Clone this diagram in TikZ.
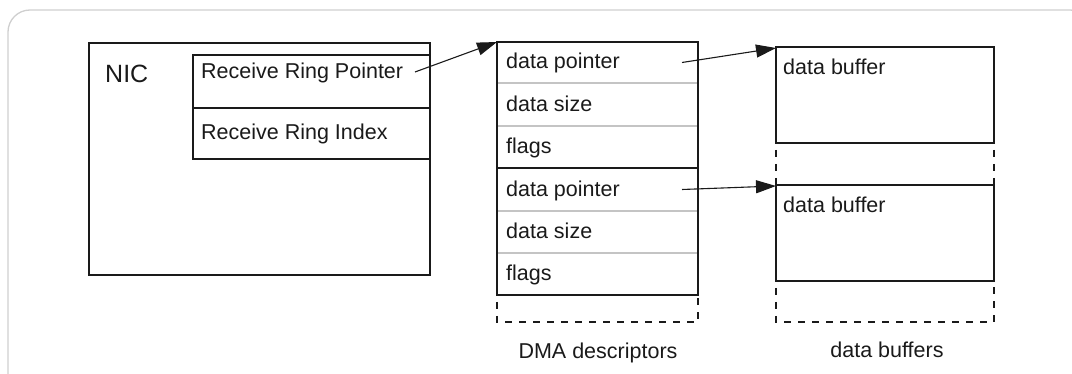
\documentclass[tikz,border=0pt]{standalone}
\usepackage{fontspec}
\setmainfont{Liberation Sans}
\usetikzlibrary{arrows.meta,calc}
\definecolor{frame}{HTML}{CFCFCF}
\definecolor{ink}{HTML}{1A1A1A}
\definecolor{rule}{HTML}{C4C4C4}

\begin{document}
\begin{tikzpicture}[x=1pt,y=-1pt,
  cell/.style={rectangle, inner sep=0pt, outer sep=0pt, anchor=north west},
  txt/.style={anchor=base west, inner sep=0pt, font=\fontsize{21.5}{25}\selectfont, text=ink},
  caption/.style={anchor=base, inner sep=0pt, font=\fontsize{21.5}{25}\selectfont, text=ink},
  solid line/.style={draw=ink, line width=1.1pt},
  soft line/.style={draw=rule, line width=1.1pt},
  dash line/.style={draw=ink, line width=1.1pt, dash pattern=on 7pt off 7pt, dash phase=7pt},
  ptr/.style={draw=ink, line width=1.1pt, -{Triangle[length=20pt,width=13pt]}}
]
\useasboundingbox (0,0) rectangle (1072,374);

% outer rounded frame
\begin{scope}
  \clip (0,0) rectangle (1072,374);
  \draw[frame, line width=1.3pt, rounded corners=22pt] (8,10) rectangle (1092,410);
\end{scope}

% NIC block
\node[cell, minimum width=341pt, minimum height=232pt, solid line] (nic) at (89,43) {};
\node[txt, font=\fontsize{25}{29}\selectfont] (niclabel) at (105,83) {NIC};

\node[cell, minimum width=237pt, minimum height=53pt] (rrp) at (193,55) {};
\node[cell, minimum width=237pt, minimum height=51pt] (rri) at (193,108) {};
\draw[solid line] (rrp.north west) rectangle (rri.south east);
\draw[solid line] (rrp.south west) -- (rrp.south east);
\node[txt] (rrptext) at (201,79) {Receive Ring Pointer};
\node[txt] (rritext) at (201,140) {Receive Ring Index};

% DMA descriptor ring
\foreach \i/\y/\h/\t in {1/42/41/data pointer, 2/83/43/data size, 3/126/42/flags,
                         4/168/43/data pointer, 5/211/42/data size, 6/253/42/flags}{
  \node[cell, minimum width=201pt, minimum height=\h pt] (d\i) at (497,\y) {};
  \node[txt] (d\i text) at ($(d\i.south west)+(9,-14)$) {\t};
}
\foreach \i in {1,2,4,5}{
  \draw[soft line] (d\i.south west) -- (d\i.south east);
}
\draw[solid line] (d1.north west) rectangle (d6.south east);
\draw[solid line] (d3.south west) -- (d3.south east);
\coordinate (dend) at (698,322);
\draw[dash line] (d6.south west) -- (d6.south west |- dend) -- (dend) -- (d6.south east);
\node[caption] (dcap) at (598,359) {DMA descriptors};

% data buffers
\node[cell, minimum width=218pt, minimum height=96pt, solid line] (b1) at (776,47) {};
\node[cell, minimum width=218pt, minimum height=96pt, solid line] (b2) at (776,185) {};
\node[txt] (b1text) at (783,75) {data buffer};
\node[txt] (b2text) at (783,213) {data buffer};
\draw[dash line] (b1.south west) -- (b2.north west);
\draw[dash line] (b1.south east) -- (b2.north east);
\coordinate (bend) at (994,322);
\draw[dash line] (b2.south west) -- (b2.south west |- bend) -- (bend) -- (b2.south east);
\node[caption] (bcap) at (887,357) {data buffers};

% pointers
\draw[ptr] ($(rrp.east)+(-15,-9.5)$) -- (d1.north west);
\draw[ptr] ($(d1.east)+(-16,0)$) -- ($(b1.north west)+(0,1)$);
\draw[ptr] ($(d4.east)+(-16,0)$) -- ($(b2.north west)+(0,1)$);
\end{tikzpicture}
\end{document}
